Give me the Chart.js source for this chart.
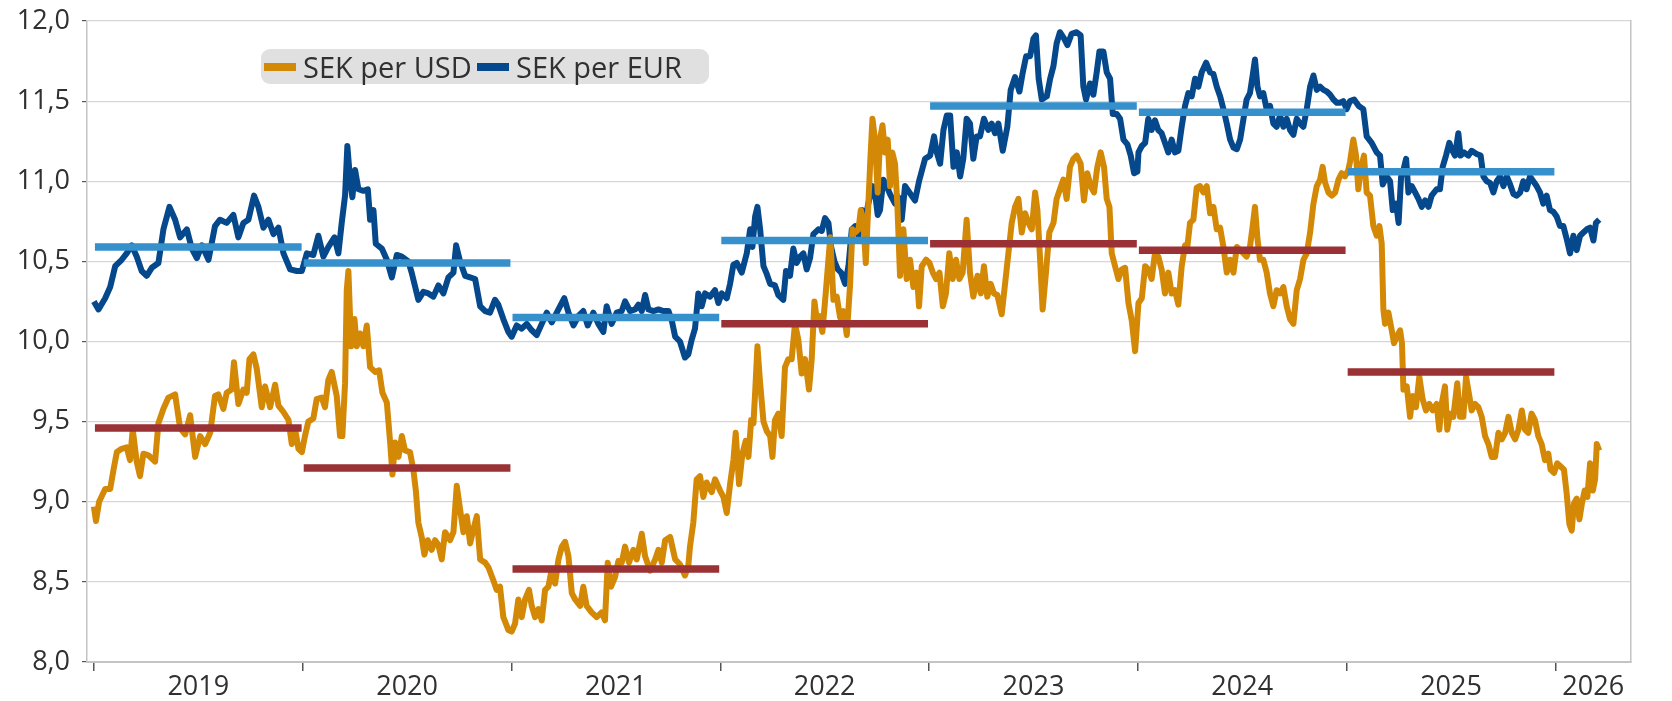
<!DOCTYPE html>
<html>
<head>
<meta charset="utf-8">
<script src="https://cdn.jsdelivr.net/npm/chart.js@4.4.1/dist/chart.umd.min.js"></script>
<style>
  html, body { margin: 0; padding: 0; background: #fff; }
  #wrap { position: relative; width: 1672px; height: 701px; }
  #legend {
    position: absolute; left: 261px; top: 49px; width: 448px; height: 35px;
    box-sizing: border-box; display: flex; align-items: center;
    padding: 0 0 0 3px; background: #e0e0e0; border-radius: 9px;
    font-family: 'Open Sans', sans-serif; font-size: 29px; font-weight: 500; color: #303030;
  }
  #legend .item { display: flex; align-items: center; white-space: nowrap; }
  #legend .item:first-child { width: 213px; }
  #legend .swatch { width: 32px; height: 8px; margin-right: 7px; }
</style>
</head>
<body>
<div id="wrap">
  <canvas id="fxChart" width="1672" height="701"></canvas>
  <div id="legend"></div>
</div>
<script>
// daily SEK rates (x = fractional year)
const usd2019 = [[2019.000,8.97],[2019.010,8.88],[2019.025,9.00],[2019.054,9.08],[2019.078,9.08],[2019.094,9.20],[2019.110,9.31],[2019.133,9.33],[2019.157,9.34],[2019.173,9.26],[2019.186,9.45],[2019.205,9.25],[2019.221,9.16],[2019.237,9.30],[2019.261,9.29],[2019.293,9.25],[2019.309,9.49],[2019.333,9.58],[2019.357,9.65],[2019.389,9.67],[2019.413,9.46],[2019.437,9.42],[2019.461,9.54],[2019.485,9.28],[2019.509,9.41],[2019.533,9.36],[2019.557,9.43],[2019.580,9.66],[2019.596,9.67],[2019.620,9.58],[2019.636,9.68],[2019.660,9.70],[2019.671,9.87],[2019.692,9.61],[2019.716,9.70],[2019.732,9.68],[2019.745,9.89],[2019.764,9.92],[2019.780,9.83],[2019.804,9.59],[2019.820,9.72],[2019.844,9.59],[2019.868,9.73],[2019.884,9.60],[2019.908,9.56],[2019.932,9.51],[2019.948,9.36],[2019.964,9.45],[2019.980,9.33],[2019.996,9.31]];
const usd2020 = [[2020.011,9.41],[2020.027,9.50],[2020.051,9.52],[2020.067,9.64],[2020.091,9.65],[2020.107,9.59],[2020.123,9.76],[2020.139,9.81],[2020.163,9.66],[2020.179,9.41],[2020.190,9.41],[2020.203,9.74],[2020.211,10.32],[2020.219,10.44],[2020.232,9.97],[2020.248,10.14],[2020.259,9.97],[2020.275,10.05],[2020.291,9.97],[2020.307,10.10],[2020.323,9.84],[2020.347,9.81],[2020.366,9.82],[2020.382,9.68],[2020.403,9.62],[2020.419,9.37],[2020.430,9.17],[2020.443,9.37],[2020.459,9.28],[2020.475,9.41],[2020.490,9.32],[2020.514,9.31],[2020.530,9.20],[2020.542,9.07],[2020.554,8.87],[2020.570,8.78],[2020.583,8.67],[2020.599,8.76],[2020.618,8.70],[2020.634,8.76],[2020.650,8.73],[2020.666,8.64],[2020.682,8.81],[2020.706,8.76],[2020.722,8.81],[2020.738,9.10],[2020.754,8.95],[2020.770,8.81],[2020.786,8.91],[2020.802,8.74],[2020.818,8.83],[2020.834,8.91],[2020.850,8.64],[2020.874,8.62],[2020.890,8.59],[2020.913,8.51],[2020.929,8.45],[2020.945,8.47],[2020.961,8.28],[2020.985,8.20]];
const usd2021 = [[2021.001,8.19],[2021.017,8.24],[2021.033,8.39],[2021.049,8.28],[2021.065,8.39],[2021.084,8.45],[2021.097,8.35],[2021.113,8.28],[2021.129,8.33],[2021.145,8.26],[2021.161,8.45],[2021.177,8.47],[2021.193,8.58],[2021.209,8.49],[2021.225,8.64],[2021.241,8.72],[2021.257,8.75],[2021.273,8.66],[2021.289,8.43],[2021.305,8.39],[2021.329,8.35],[2021.344,8.47],[2021.360,8.35],[2021.384,8.31],[2021.408,8.28],[2021.432,8.31],[2021.448,8.26],[2021.461,8.62],[2021.477,8.47],[2021.496,8.53],[2021.512,8.63],[2021.528,8.62],[2021.544,8.72],[2021.563,8.62],[2021.584,8.70],[2021.600,8.64],[2021.624,8.80],[2021.640,8.66],[2021.664,8.57],[2021.688,8.64],[2021.704,8.70],[2021.720,8.62],[2021.736,8.76],[2021.760,8.78],[2021.784,8.64],[2021.807,8.61],[2021.831,8.54],[2021.847,8.60],[2021.855,8.72],[2021.871,8.87],[2021.887,9.14],[2021.903,9.16],[2021.919,9.03],[2021.935,9.12],[2021.959,9.06],[2021.975,9.14],[2021.999,9.07]];
const usd2022 = [[2022.015,9.03],[2022.031,8.93],[2022.047,9.11],[2022.063,9.26],[2022.074,9.43],[2022.090,9.11],[2022.106,9.30],[2022.122,9.38],[2022.135,9.28],[2022.148,9.51],[2022.159,9.49],[2022.167,9.68],[2022.178,9.97],[2022.191,9.74],[2022.207,9.50],[2022.223,9.44],[2022.239,9.41],[2022.250,9.28],[2022.262,9.51],[2022.278,9.55],[2022.294,9.41],[2022.310,9.84],[2022.326,9.89],[2022.342,9.89],[2022.358,10.11],[2022.374,10.01],[2022.390,9.80],[2022.406,9.89],[2022.425,9.70],[2022.438,9.89],[2022.451,10.25],[2022.462,10.14],[2022.473,10.16],[2022.489,10.06],[2022.505,10.30],[2022.518,10.51],[2022.527,10.65],[2022.542,10.26],[2022.558,10.28],[2022.574,10.15],[2022.590,10.19],[2022.606,10.04],[2022.622,10.36],[2022.633,10.70],[2022.646,10.68],[2022.662,10.70],[2022.673,10.82],[2022.685,10.76],[2022.697,10.49],[2022.706,10.76],[2022.719,11.14],[2022.729,11.39],[2022.741,11.26],[2022.754,10.93],[2022.765,11.26],[2022.777,11.35],[2022.789,11.18],[2022.802,11.26],[2022.813,10.97],[2022.824,11.18],[2022.837,11.11],[2022.848,10.86],[2022.861,10.41],[2022.877,10.70],[2022.893,10.39],[2022.909,10.51],[2022.925,10.34],[2022.941,10.43],[2022.952,10.22],[2022.965,10.47],[2022.986,10.51]];
const usd2023 = [[2023.002,10.49],[2023.018,10.43],[2023.034,10.39],[2023.050,10.43],[2023.066,10.22],[2023.081,10.30],[2023.097,10.55],[2023.113,10.39],[2023.129,10.51],[2023.145,10.39],[2023.161,10.43],[2023.180,10.76],[2023.196,10.43],[2023.212,10.28],[2023.232,10.41],[2023.248,10.30],[2023.263,10.47],[2023.279,10.28],[2023.295,10.36],[2023.311,10.30],[2023.327,10.29],[2023.348,10.17],[2023.364,10.36],[2023.380,10.55],[2023.396,10.74],[2023.412,10.84],[2023.428,10.89],[2023.444,10.68],[2023.460,10.80],[2023.476,10.74],[2023.492,10.70],[2023.508,10.93],[2023.519,10.82],[2023.532,10.51],[2023.544,10.20],[2023.560,10.43],[2023.576,10.68],[2023.596,10.74],[2023.611,10.89],[2023.627,10.95],[2023.643,11.01],[2023.659,10.89],[2023.675,11.09],[2023.691,11.14],[2023.707,11.16],[2023.726,11.11],[2023.742,10.88],[2023.758,11.05],[2023.774,10.97],[2023.790,10.93],[2023.806,11.09],[2023.822,11.18],[2023.838,11.09],[2023.851,10.89],[2023.864,10.84],[2023.875,10.55],[2023.891,10.47],[2023.907,10.39],[2023.923,10.45],[2023.939,10.46],[2023.955,10.24],[2023.971,10.13],[2023.987,9.94]];
const usd2024 = [[2024.003,10.24],[2024.019,10.27],[2024.035,10.47],[2024.050,10.45],[2024.066,10.39],[2024.082,10.55],[2024.098,10.53],[2024.114,10.45],[2024.130,10.30],[2024.146,10.43],[2024.162,10.30],[2024.178,10.32],[2024.194,10.23],[2024.210,10.47],[2024.226,10.60],[2024.237,10.59],[2024.250,10.74],[2024.266,10.76],[2024.282,10.96],[2024.298,10.97],[2024.314,10.93],[2024.330,10.97],[2024.346,10.80],[2024.362,10.84],[2024.378,10.70],[2024.394,10.71],[2024.410,10.59],[2024.426,10.43],[2024.442,10.51],[2024.458,10.43],[2024.474,10.59],[2024.490,10.57],[2024.506,10.55],[2024.521,10.53],[2024.537,10.59],[2024.550,10.72],[2024.561,10.84],[2024.573,10.64],[2024.585,10.51],[2024.601,10.51],[2024.617,10.43],[2024.633,10.30],[2024.649,10.22],[2024.665,10.32],[2024.681,10.30],[2024.697,10.34],[2024.713,10.22],[2024.729,10.14],[2024.745,10.11],[2024.761,10.32],[2024.777,10.39],[2024.793,10.51],[2024.809,10.55],[2024.825,10.68],[2024.841,10.86],[2024.857,10.97],[2024.873,11.01],[2024.885,11.09],[2024.897,10.99],[2024.913,10.93],[2024.929,10.91],[2024.945,10.93],[2024.961,11.01],[2024.976,11.05],[2024.992,11.03]];
const usd2025 = [[2025.008,11.07],[2025.016,11.12],[2025.032,11.26],[2025.045,11.16],[2025.056,10.95],[2025.067,11.07],[2025.083,11.16],[2025.096,10.93],[2025.112,10.91],[2025.128,10.72],[2025.144,10.66],[2025.157,10.72],[2025.168,10.61],[2025.176,10.20],[2025.184,10.11],[2025.200,10.18],[2025.216,10.07],[2025.227,9.99],[2025.240,10.03],[2025.256,10.07],[2025.265,9.99],[2025.272,9.70],[2025.288,9.72],[2025.304,9.53],[2025.316,9.66],[2025.332,9.59],[2025.348,9.78],[2025.364,9.64],[2025.380,9.57],[2025.396,9.61],[2025.412,9.57],[2025.431,9.61],[2025.444,9.45],[2025.455,9.61],[2025.471,9.72],[2025.482,9.45],[2025.495,9.55],[2025.511,9.53],[2025.530,9.74],[2025.543,9.53],[2025.559,9.53],[2025.572,9.78],[2025.585,9.68],[2025.599,9.57],[2025.615,9.61],[2025.631,9.59],[2025.647,9.53],[2025.663,9.41],[2025.679,9.36],[2025.695,9.28],[2025.711,9.28],[2025.727,9.43],[2025.743,9.39],[2025.759,9.43],[2025.775,9.53],[2025.791,9.43],[2025.807,9.39],[2025.823,9.45],[2025.839,9.57],[2025.854,9.45],[2025.870,9.43],[2025.886,9.55],[2025.902,9.51],[2025.918,9.41],[2025.934,9.36],[2025.950,9.26],[2025.966,9.30],[2025.977,9.20],[2025.993,9.18]];
const usd2026 = [[2026.009,9.24],[2026.025,9.22],[2026.041,9.20],[2026.054,9.05],[2026.067,8.86],[2026.078,8.82],[2026.089,8.99],[2026.102,9.02],[2026.115,8.89],[2026.127,8.99],[2026.140,9.07],[2026.153,9.03],[2026.166,9.24],[2026.179,9.07],[2026.190,9.14],[2026.198,9.36],[2026.210,9.32]];

const eur2019 = [[2019.000,10.25],[2019.022,10.20],[2019.054,10.27],[2019.078,10.34],[2019.102,10.47],[2019.133,10.51],[2019.157,10.55],[2019.181,10.60],[2019.205,10.53],[2019.229,10.44],[2019.253,10.41],[2019.277,10.46],[2019.309,10.49],[2019.333,10.70],[2019.362,10.84],[2019.389,10.76],[2019.413,10.65],[2019.445,10.70],[2019.469,10.58],[2019.493,10.52],[2019.517,10.60],[2019.549,10.51],[2019.580,10.72],[2019.604,10.76],[2019.636,10.74],[2019.668,10.79],[2019.692,10.65],[2019.716,10.74],[2019.740,10.76],[2019.767,10.91],[2019.788,10.84],[2019.812,10.71],[2019.836,10.76],[2019.860,10.67],[2019.884,10.71],[2019.908,10.55],[2019.940,10.45],[2019.972,10.44],[2019.996,10.44]];
const eur2020 = [[2020.020,10.55],[2020.051,10.54],[2020.075,10.66],[2020.099,10.53],[2020.123,10.59],[2020.152,10.65],[2020.171,10.55],[2020.187,10.74],[2020.203,10.91],[2020.214,11.22],[2020.227,11.01],[2020.238,10.90],[2020.251,11.07],[2020.267,10.95],[2020.291,10.94],[2020.312,10.95],[2020.323,10.76],[2020.339,10.82],[2020.350,10.61],[2020.379,10.58],[2020.403,10.51],[2020.427,10.40],[2020.451,10.54],[2020.475,10.53],[2020.506,10.50],[2020.522,10.43],[2020.554,10.26],[2020.578,10.31],[2020.602,10.30],[2020.626,10.28],[2020.650,10.35],[2020.674,10.30],[2020.698,10.40],[2020.722,10.43],[2020.735,10.60],[2020.754,10.50],[2020.778,10.41],[2020.802,10.40],[2020.826,10.39],[2020.850,10.22],[2020.874,10.19],[2020.897,10.18],[2020.921,10.26],[2020.937,10.23],[2020.961,10.14],[2020.985,10.06]];
const eur2021 = [[2021.001,10.03],[2021.025,10.10],[2021.049,10.08],[2021.073,10.11],[2021.097,10.07],[2021.121,10.04],[2021.145,10.11],[2021.169,10.18],[2021.193,10.12],[2021.225,10.20],[2021.253,10.27],[2021.273,10.18],[2021.297,10.10],[2021.321,10.16],[2021.344,10.19],[2021.365,10.10],[2021.392,10.18],[2021.416,10.11],[2021.440,10.06],[2021.456,10.22],[2021.480,10.11],[2021.504,10.18],[2021.528,10.19],[2021.544,10.25],[2021.568,10.19],[2021.592,10.20],[2021.608,10.23],[2021.624,10.19],[2021.640,10.29],[2021.656,10.20],[2021.680,10.19],[2021.704,10.20],[2021.728,10.19],[2021.752,10.19],[2021.768,10.13],[2021.784,10.03],[2021.807,10.00],[2021.831,9.90],[2021.847,9.92],[2021.863,10.01],[2021.879,10.08],[2021.895,10.30],[2021.911,10.22],[2021.927,10.30],[2021.951,10.28],[2021.975,10.32],[2021.991,10.24]];
const eur2022 = [[2022.007,10.30],[2022.031,10.27],[2022.047,10.36],[2022.063,10.48],[2022.079,10.49],[2022.103,10.43],[2022.127,10.55],[2022.143,10.70],[2022.154,10.59],[2022.167,10.78],[2022.178,10.84],[2022.191,10.70],[2022.207,10.47],[2022.223,10.42],[2022.239,10.36],[2022.262,10.35],[2022.278,10.29],[2022.302,10.26],[2022.315,10.44],[2022.334,10.41],[2022.350,10.58],[2022.366,10.49],[2022.382,10.53],[2022.398,10.55],[2022.414,10.45],[2022.430,10.52],[2022.446,10.67],[2022.470,10.70],[2022.486,10.69],[2022.502,10.77],[2022.518,10.74],[2022.531,10.59],[2022.547,10.50],[2022.563,10.45],[2022.579,10.43],[2022.598,10.36],[2022.614,10.47],[2022.630,10.70],[2022.646,10.72],[2022.662,10.66],[2022.678,10.82],[2022.694,10.76],[2022.709,10.86],[2022.729,10.97],[2022.741,10.93],[2022.754,10.79],[2022.765,10.82],[2022.781,11.01],[2022.797,10.97],[2022.813,10.92],[2022.837,10.86],[2022.853,10.90],[2022.869,10.76],[2022.885,10.97],[2022.901,10.94],[2022.917,10.91],[2022.933,10.88],[2022.952,11.00],[2022.981,11.14]];
const eur2023 = [[2023.005,11.16],[2023.024,11.28],[2023.037,11.18],[2023.053,11.11],[2023.069,11.32],[2023.085,11.41],[2023.101,11.41],[2023.117,11.09],[2023.133,11.18],[2023.149,11.03],[2023.164,11.14],[2023.180,11.39],[2023.196,11.36],[2023.212,11.14],[2023.228,11.28],[2023.244,11.28],[2023.263,11.39],[2023.284,11.32],[2023.300,11.36],[2023.316,11.30],[2023.332,11.36],[2023.353,11.19],[2023.375,11.34],[2023.391,11.57],[2023.412,11.65],[2023.433,11.56],[2023.449,11.68],[2023.465,11.78],[2023.484,11.78],[2023.500,11.89],[2023.512,11.91],[2023.525,11.64],[2023.540,11.51],[2023.564,11.53],[2023.580,11.64],[2023.596,11.72],[2023.611,11.86],[2023.627,11.93],[2023.647,11.89],[2023.663,11.85],[2023.683,11.92],[2023.707,11.93],[2023.726,11.91],[2023.739,11.59],[2023.752,11.51],[2023.771,11.61],[2023.787,11.54],[2023.803,11.68],[2023.816,11.81],[2023.835,11.81],[2023.851,11.68],[2023.867,11.64],[2023.880,11.42],[2023.899,11.42],[2023.915,11.39],[2023.931,11.26],[2023.950,11.23],[2023.966,11.16],[2023.982,11.05],[2023.998,11.06]];
const eur2024 = [[2024.003,11.18],[2024.019,11.22],[2024.035,11.24],[2024.050,11.39],[2024.066,11.32],[2024.082,11.38],[2024.098,11.32],[2024.114,11.30],[2024.130,11.24],[2024.146,11.18],[2024.162,11.26],[2024.178,11.18],[2024.194,11.19],[2024.210,11.34],[2024.226,11.47],[2024.242,11.55],[2024.258,11.53],[2024.274,11.64],[2024.290,11.59],[2024.306,11.68],[2024.327,11.74],[2024.346,11.68],[2024.362,11.67],[2024.378,11.59],[2024.394,11.53],[2024.410,11.45],[2024.426,11.36],[2024.442,11.26],[2024.458,11.21],[2024.474,11.20],[2024.490,11.26],[2024.506,11.39],[2024.521,11.51],[2024.537,11.55],[2024.550,11.66],[2024.561,11.76],[2024.573,11.59],[2024.585,11.53],[2024.601,11.55],[2024.617,11.45],[2024.633,11.47],[2024.649,11.36],[2024.665,11.34],[2024.681,11.41],[2024.697,11.34],[2024.713,11.39],[2024.729,11.32],[2024.745,11.29],[2024.761,11.39],[2024.777,11.36],[2024.793,11.34],[2024.809,11.45],[2024.825,11.59],[2024.841,11.66],[2024.857,11.57],[2024.873,11.59],[2024.889,11.57],[2024.905,11.56],[2024.921,11.54],[2024.937,11.51],[2024.953,11.49],[2024.968,11.49],[2024.984,11.50]];
const eur2025 = [[2025.000,11.45],[2025.016,11.50],[2025.036,11.51],[2025.058,11.47],[2025.080,11.45],[2025.096,11.28],[2025.120,11.24],[2025.144,11.18],[2025.160,11.16],[2025.173,10.98],[2025.192,11.03],[2025.208,11.00],[2025.221,10.82],[2025.237,10.86],[2025.249,10.74],[2025.261,11.03],[2025.272,11.07],[2025.285,11.14],[2025.296,10.93],[2025.312,10.97],[2025.328,10.93],[2025.344,10.89],[2025.360,10.84],[2025.376,10.88],[2025.392,10.84],[2025.407,10.91],[2025.431,10.95],[2025.447,10.95],[2025.460,11.09],[2025.476,11.16],[2025.492,11.24],[2025.503,11.20],[2025.519,11.16],[2025.535,11.30],[2025.546,11.16],[2025.562,11.18],[2025.583,11.16],[2025.599,11.19],[2025.623,11.17],[2025.642,11.16],[2025.655,11.03],[2025.671,11.00],[2025.687,10.99],[2025.703,10.93],[2025.719,11.00],[2025.735,11.03],[2025.751,10.97],[2025.767,11.03],[2025.783,10.98],[2025.799,10.92],[2025.815,10.91],[2025.831,10.93],[2025.846,11.00],[2025.862,10.95],[2025.878,11.03],[2025.894,11.00],[2025.910,10.97],[2025.926,10.93],[2025.942,10.86],[2025.958,10.91],[2025.974,10.82],[2025.990,10.81]];
const eur2026 = [[2026.006,10.78],[2026.022,10.72],[2026.038,10.72],[2026.054,10.64],[2026.070,10.55],[2026.086,10.66],[2026.102,10.57],[2026.118,10.66],[2026.134,10.68],[2026.150,10.70],[2026.166,10.71],[2026.182,10.63],[2026.194,10.74],[2026.210,10.76]];

// yearly averages
const avgYears = [2019, 2020, 2021, 2022, 2023, 2024, 2025];
const avgUsd = [9.46, 9.21, 8.58, 10.11, 10.61, 10.57, 9.81];
const avgEur = [10.59, 10.49, 10.15, 10.63, 11.47, 11.43, 11.06];

// axis
const yearTicks = [2019, 2020, 2021, 2022, 2023, 2024, 2025, 2026];
const yearLabels = ['2019', '2020', '2021', '2022', '2023', '2024', '2025', '2026'];
const xMin = 2018.967;
const xMax = 2026.362;

const seriesNames = ['SEK per USD', 'SEK per EUR'];
const colors = {
  usd: '#d38806',
  eur: '#05488c',
  avgUsd: '#993135',
  avgEur: '#3590cc',
  grid: '#d6d6d6',
  axis: '#c4c4c4',
  text: '#303030'
};

function toPoints(...chunks) {
  return [].concat(...chunks).map(([x, y]) => ({ x, y }));
}

function avgPoints(values) {
  const pts = [];
  avgYears.forEach((yr, i) => {
    pts.push({ x: yr + 0.005, y: values[i] });
    pts.push({ x: yr + 0.995, y: values[i] });
    pts.push({ x: yr + 0.998, y: null });
  });
  return pts;
}

// label sits in the middle of each year span (last one clipped by the axis end)
const labelPos = yearTicks.map(yr => (yr + Math.min(yr + 1, xMax)) / 2);

const tickFont = { family: "'Open Sans', sans-serif", size: 27, weight: '500' };

const chart = new Chart(document.getElementById('fxChart').getContext('2d'), {
  type: 'line',
  data: {
    datasets: [
      {
        label: 'avgEur',
        data: avgPoints(avgEur),
        borderColor: colors.avgEur,
        borderWidth: 7.5,
        pointRadius: 0,
        spanGaps: false,
        order: 0
      },
      {
        label: 'avgUsd',
        data: avgPoints(avgUsd),
        borderColor: colors.avgUsd,
        borderWidth: 7.5,
        pointRadius: 0,
        spanGaps: false,
        order: 0
      },
      {
        label: seriesNames[0],
        data: toPoints(usd2019, usd2020, usd2021, usd2022, usd2023, usd2024, usd2025, usd2026),
        borderColor: colors.usd,
        borderWidth: 6,
        borderJoinStyle: 'round',
        pointRadius: 0,
        order: 1
      },
      {
        label: seriesNames[1],
        data: toPoints(eur2019, eur2020, eur2021, eur2022, eur2023, eur2024, eur2025, eur2026),
        borderColor: colors.eur,
        borderWidth: 6,
        borderJoinStyle: 'round',
        pointRadius: 0,
        order: 2
      }
    ]
  },
  options: {
    responsive: false,
    animation: false,
    devicePixelRatio: 1,
    layout: { padding: { top: 21, right: 41, left: 0, bottom: 0 } },
    plugins: {
      legend: { display: false },
      tooltip: { enabled: false }
    },
    scales: {
      x: {
        type: 'linear',
        min: xMin,
        max: xMax,
        afterBuildTicks: scale => {
          scale.ticks = yearTicks.concat(labelPos)
            .sort((a, b) => a - b)
            .map(value => ({ value }));
        },
        afterFit: scale => { scale.height = 39; },
        ticks: {
          autoSkip: false,
          maxRotation: 0,
          padding: 0,
          font: tickFont,
          color: colors.text,
          callback: value => {
            const i = labelPos.findIndex(p => Math.abs(p - value) < 1e-6);
            return i >= 0 ? yearLabels[i] : '';
          }
        },
        grid: {
          drawOnChartArea: false,
          drawTicks: true,
          tickLength: 9,
          lineWidth: 1.5,
          tickColor: ctx => yearTicks.includes(ctx.tick && ctx.tick.value) ? '#555' : 'rgba(0,0,0,0)'
        },
        border: { color: colors.axis, width: 2 }
      },
      y: {
        min: 8,
        max: 12,
        afterFit: scale => {
          scale.width = 87;
          scale.paddingTop = 0;
          scale.paddingBottom = 0;
        },
        ticks: {
          stepSize: 0.5,
          padding: 12,
          font: tickFont,
          color: colors.text,
          callback: value => value.toFixed(1).replace('.', ',')
        },
        grid: {
          color: colors.grid,
          lineWidth: 1.2,
          tickLength: 5,
          tickColor: '#555'
        },
        border: { color: colors.axis, width: 1.5 }
      },
      yRight: {
        position: 'right',
        min: 8,
        max: 12,
        afterFit: scale => { scale.width = 0; },
        ticks: { display: false },
        grid: { display: false },
        border: { display: true, color: colors.axis, width: 1.5 }
      }
    }
  }
});

// legend box drawn as html on top of the plot
const legendEl = document.getElementById('legend');
[[seriesNames[0], colors.usd], [seriesNames[1], colors.eur]].forEach(([name, color]) => {
  const item = document.createElement('div');
  item.className = 'item';
  const sw = document.createElement('span');
  sw.className = 'swatch';
  sw.style.background = color;
  const txt = document.createElement('span');
  txt.textContent = name;
  item.appendChild(sw);
  item.appendChild(txt);
  legendEl.appendChild(item);
});
</script>
</body>
</html>
